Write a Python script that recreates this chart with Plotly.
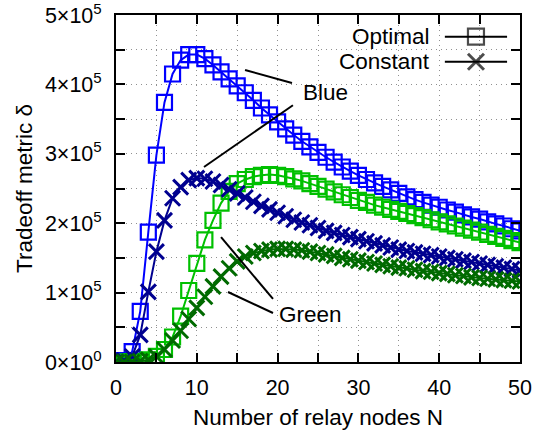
import plotly.graph_objects as go

N = list(range(0, 51))
SCALE = 1e5

# values in units of 1e5
blue_optimal = [0.00, 0.02, 0.15, 0.73, 1.87, 2.98, 3.74, 4.15, 4.35, 4.43,
                4.43, 4.37, 4.28, 4.18, 4.08, 3.98, 3.88, 3.77, 3.66, 3.56,
                3.46, 3.36, 3.27, 3.18, 3.10, 3.02, 2.95, 2.88, 2.81, 2.75,
                2.69, 2.63, 2.58, 2.53, 2.48, 2.43, 2.38, 2.34, 2.30, 2.26,
                2.23, 2.19, 2.16, 2.12, 2.09, 2.06, 2.02, 1.99, 1.96, 1.92,
                1.89]
green_optimal = [0.00, 0.00, 0.005, 0.01, 0.03, 0.08, 0.18, 0.36, 0.66, 1.03,
                 1.42, 1.76, 2.04, 2.29, 2.46, 2.57, 2.63, 2.67, 2.69, 2.70,
                 2.69, 2.67, 2.64, 2.61, 2.57, 2.53, 2.49, 2.45, 2.41, 2.37,
                 2.33, 2.30, 2.26, 2.23, 2.20, 2.17, 2.14, 2.11, 2.08, 2.05,
                 2.02, 1.99, 1.96, 1.93, 1.90, 1.87, 1.84, 1.81, 1.78, 1.75,
                 1.72]
blue_constant = [0.00, 0.02, 0.08, 0.39, 1.01, 1.59, 2.04, 2.36, 2.52, 2.62,
                 2.65, 2.64, 2.60, 2.55, 2.49, 2.43, 2.37, 2.31, 2.25, 2.20,
                 2.15, 2.10, 2.05, 2.01, 1.97, 1.93, 1.89, 1.86, 1.83, 1.80,
                 1.77, 1.74, 1.71, 1.68, 1.65, 1.62, 1.60, 1.58, 1.56, 1.54,
                 1.52, 1.50, 1.48, 1.46, 1.44, 1.42, 1.40, 1.38, 1.36, 1.34,
                 1.32]
green_constant = [0.00, 0.00, 0.00, 0.01, 0.03, 0.08, 0.18, 0.31, 0.45, 0.62,
                  0.78, 0.94, 1.09, 1.23, 1.35, 1.45, 1.52, 1.57, 1.60, 1.62,
                  1.63, 1.63, 1.62, 1.61, 1.59, 1.57, 1.55, 1.53, 1.50, 1.48,
                  1.46, 1.44, 1.42, 1.40, 1.38, 1.36, 1.35, 1.33, 1.31, 1.30,
                  1.28, 1.27, 1.25, 1.24, 1.22, 1.21, 1.20, 1.19, 1.18, 1.17,
                  1.16]

x_tickvals = [0, 5, 10, 15, 20, 25, 30, 35, 40, 45, 50]
x_ticktext = ["0", "", "10", "", "20", "", "30", "", "40", "", "50"]
y_tickvals = [0, 0.5, 1, 1.5, 2, 2.5, 3, 3.5, 4, 4.5, 5]
y_ticktext = ["0×10<sup>0</sup>", "", "1×10<sup>5</sup>", "", "2×10<sup>5</sup>", "",
              "3×10<sup>5</sup>", "", "4×10<sup>5</sup>", "", "5×10<sup>5</sup>"]

legend_labels = ["Optimal", "Constant"]

FONT = "Liberation Sans, Arial, Helvetica, sans-serif"
C_BLUE = "#0000ff"
C_GREEN = "#00c000"
C_NAVY = "#000090"
C_DGREEN = "#006a00"

def sc(v):
    return [a * SCALE for a in v]

fig = go.Figure()

sq = dict(symbol="square-open", size=15, line=dict(width=2.2))
xx = dict(symbol="x-thin-open", size=15, line=dict(width=3))

fig.add_trace(go.Scatter(x=N, y=sc(blue_optimal), mode="lines+markers",
                         line=dict(color=C_BLUE, width=2),
                         marker=dict(color=C_BLUE, **sq), showlegend=False))
fig.add_trace(go.Scatter(x=N, y=sc(green_optimal), mode="lines+markers",
                         line=dict(color=C_GREEN, width=2),
                         marker=dict(color=C_GREEN, **sq), showlegend=False))
fig.add_trace(go.Scatter(x=N, y=sc(blue_constant), mode="lines+markers",
                         line=dict(color=C_NAVY, width=2),
                         marker=dict(color=C_NAVY, **xx), showlegend=False))
fig.add_trace(go.Scatter(x=N, y=sc(green_constant), mode="lines+markers",
                         line=dict(color=C_DGREEN, width=2),
                         marker=dict(color=C_DGREEN, **xx), showlegend=False))

# manual legend (text on the left, sample on the right) on an overlay axis
leg_y = [0.9375, 0.8654]
leg_x = [0.814, 0.891, 0.968]
for i, (lab, mk) in enumerate(zip(legend_labels, [sq, xx])):
    m = dict(mk)
    fig.add_trace(go.Scatter(x=leg_x, y=[leg_y[i]] * 3, mode="lines+markers",
                             xaxis="x2", yaxis="y2",
                             line=dict(color="black", width=2),
                             marker=dict(color="black", symbol=m["symbol"],
                                         size=[0, 16, 0], line=m["line"]),
                             showlegend=False, hoverinfo="skip"))
    fig.add_annotation(x=0.782, y=leg_y[i], xref="paper", yref="paper",
                       text=lab, showarrow=False, xanchor="right", yanchor="middle",
                       font=dict(size=22.5, color="black", family=FONT))

# callout lines and labels
line_style = dict(color="black", width=2)
fig.add_shape(type="line", x0=15.97, y0=4.207 * SCALE, x1=21.78, y1=4.02 * SCALE, line=line_style)
fig.add_shape(type="line", x0=10.89, y0=2.81 * SCALE, x1=21.9, y1=3.70 * SCALE, line=line_style)
fig.add_shape(type="line", x0=13.0, y0=1.80 * SCALE, x1=19.43, y1=0.908 * SCALE, line=line_style)
fig.add_shape(type="line", x0=13.86, y0=1.009 * SCALE, x1=19.43, y1=0.706 * SCALE, line=line_style)
fig.add_annotation(x=22.9, y=3.89 * SCALE, text="Blue", showarrow=False,
                   xanchor="left", yanchor="middle",
                   font=dict(size=22.5, color="black", family=FONT))
fig.add_annotation(x=19.93, y=0.69 * SCALE, text="Green", showarrow=False,
                   xanchor="left", yanchor="middle",
                   font=dict(size=22.5, color="black", family=FONT))

axis_common = dict(showline=True, linecolor="black", linewidth=2, mirror="ticks",
                   ticks="inside", ticklen=9, tickwidth=1.5, tickcolor="black",
                   showgrid=True, gridcolor="#909090", griddash="1px,4px", gridwidth=1,
                   zeroline=False, automargin=False, ticklabeloverflow="allow",
                   tickfont=dict(size=21.5, color="black", family=FONT))

fig.update_layout(
    width=537, height=433,
    margin=dict(l=116, r=17, t=15, b=71),
    paper_bgcolor="white", plot_bgcolor="white",
    font=dict(family=FONT, color="black"),
    xaxis=dict(range=[0, 50], tickmode="array", tickvals=x_tickvals, ticktext=x_ticktext,
               title=dict(text="Number of relay nodes N", font=dict(size=22.5), standoff=10),
               ticklabelstandoff=5,
               **axis_common),
    yaxis=dict(range=[0, 5 * SCALE], tickmode="array",
               tickvals=[v * SCALE for v in y_tickvals], ticktext=y_ticktext,
               title=dict(text="Tradeoff metric δ", font=dict(size=22.5), standoff=6),
               ticklabelstandoff=8,
               **axis_common),
    xaxis2=dict(range=[0, 1], overlaying="x", visible=False, fixedrange=True),
    yaxis2=dict(range=[0, 1], overlaying="y", visible=False, fixedrange=True),
    showlegend=False,
)

fig.write_html("out.html")
